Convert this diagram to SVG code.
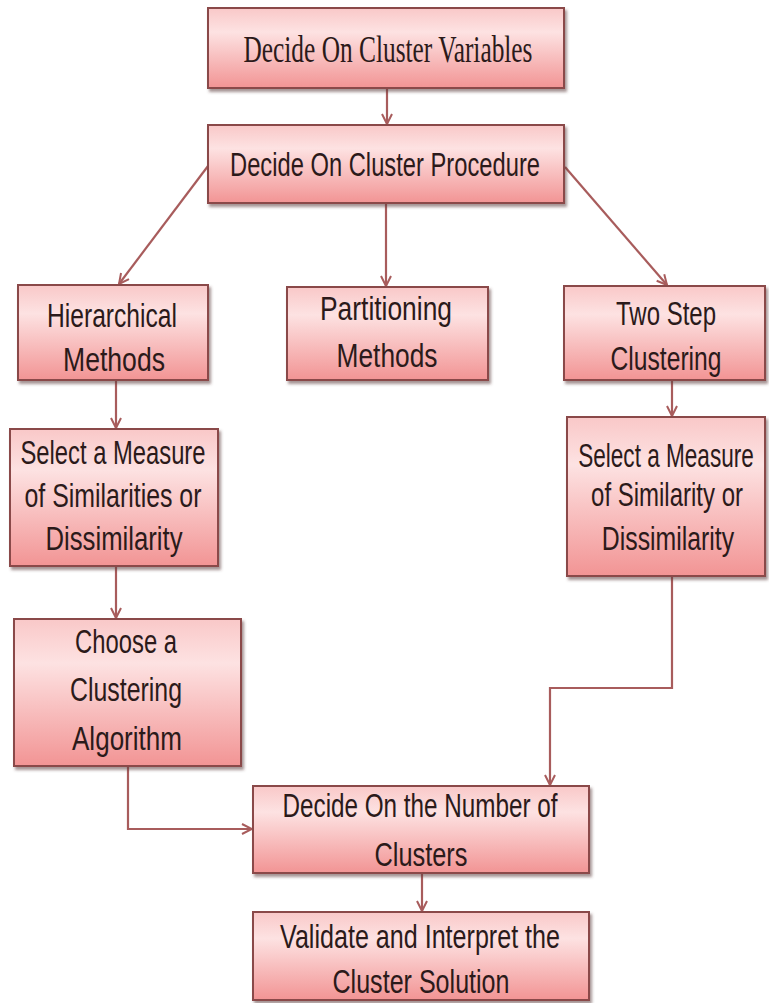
<svg xmlns="http://www.w3.org/2000/svg" width="769" height="1003" viewBox="0 0 769 1003">
<style>
.box{fill:url(#g);stroke:#8a4848;stroke-width:2;filter:url(#sh)}
.t{font-family:"Liberation Sans",Arial,sans-serif;font-size:33px;fill:#2b1a1a;text-anchor:middle}
.ts{font-family:"Liberation Serif","Times New Roman",serif;font-size:37px;fill:#2b1a1a;text-anchor:middle}
.c{fill:none;stroke:#a85c5c;stroke-width:2.2;marker-end:url(#ah)}
</style>
<defs>
<linearGradient id="g" x1="0" y1="0" x2="0" y2="1">
<stop offset="0" stop-color="#f9c8c8"/>
<stop offset="0.3" stop-color="#fde2e2"/>
<stop offset="1" stop-color="#f29494"/>
</linearGradient>
<filter id="sh" x="-3%" y="-5%" width="108%" height="120%">
<feDropShadow dx="2" dy="3" stdDeviation="1.5" flood-color="#5a3a3a" flood-opacity="0.55"/>
</filter>
<marker id="ah" viewBox="0 0 12 12" refX="11" refY="6" markerWidth="12" markerHeight="12" markerUnits="userSpaceOnUse" orient="auto">
<path d="M1,1 L11,6 L1,11" fill="none" stroke="#a85c5c" stroke-width="2"/>
</marker>
</defs>
<rect width="769" height="1003" fill="#ffffff"/>
<g id="connectors">
<path class="c" d="M387,88 V124"/>
<path class="c" d="M386,203 V286"/>
<path class="c" d="M208,166 L119,284"/>
<path class="c" d="M565,167 L667,285"/>
<path class="c" d="M116,380 V428"/>
<path class="c" d="M672,380 V416"/>
<path class="c" d="M116,566 V618"/>
<path class="c" d="M128,766 V829 H252"/>
<path class="c" d="M672,576 V688 H550 V785"/>
<path class="c" d="M422,873 V911"/>
</g>
<g id="n1"><rect class="box" x="208" y="8" width="356" height="80"/>
<text class="ts" x="388" y="62" textLength="289" lengthAdjust="spacingAndGlyphs">Decide On Cluster Variables</text></g>
<g id="n2"><rect class="box" x="208" y="125" width="356" height="78"/>
<text class="t" x="385" y="176" textLength="310" lengthAdjust="spacingAndGlyphs">Decide On Cluster Procedure</text></g>
<g id="n3"><rect class="box" x="18" y="285" width="190" height="95"/>
<text class="t" x="112" y="327" textLength="130" lengthAdjust="spacingAndGlyphs">Hierarchical</text>
<text class="t" x="114" y="371" textLength="102" lengthAdjust="spacingAndGlyphs">Methods</text></g>
<g id="n4"><rect class="box" x="287" y="287" width="201" height="93"/>
<text class="t" x="386" y="320" textLength="132" lengthAdjust="spacingAndGlyphs">Partitioning</text>
<text class="t" x="387" y="367" textLength="101" lengthAdjust="spacingAndGlyphs">Methods</text></g>
<g id="n5"><rect class="box" x="564" y="286" width="201" height="94"/>
<text class="t" x="666" y="325" textLength="100" lengthAdjust="spacingAndGlyphs">Two Step</text>
<text class="t" x="666" y="370" textLength="111" lengthAdjust="spacingAndGlyphs">Clustering</text></g>
<g id="n6"><rect class="box" x="10" y="429" width="208" height="137"/>
<text class="t" x="113" y="464" textLength="185" lengthAdjust="spacingAndGlyphs">Select a Measure</text>
<text class="t" x="113" y="507" textLength="177" lengthAdjust="spacingAndGlyphs">of Similarities or</text>
<text class="t" x="114" y="550" textLength="137" lengthAdjust="spacingAndGlyphs">Dissimilarity</text></g>
<g id="n7"><rect class="box" x="567" y="417" width="198" height="159"/>
<text class="t" transform="translate(666,467) scale(0.7,1)" x="0" y="0" textLength="251" lengthAdjust="spacingAndGlyphs">Select a Measure</text>
<text class="t" transform="translate(667,506) scale(0.7,1)" x="0" y="0" textLength="217" lengthAdjust="spacingAndGlyphs">of Similarity or</text>
<text class="t" transform="translate(668,550) scale(0.7,1)" x="0" y="0" textLength="189" lengthAdjust="spacingAndGlyphs">Dissimilarity</text></g>
<g id="n8"><rect class="box" x="14" y="619" width="227" height="147"/>
<text class="t" x="126" y="653" textLength="102" lengthAdjust="spacingAndGlyphs">Choose a</text>
<text class="t" x="126" y="701" textLength="112" lengthAdjust="spacingAndGlyphs">Clustering</text>
<text class="t" x="127" y="750" textLength="110" lengthAdjust="spacingAndGlyphs">Algorithm</text></g>
<g id="n9"><rect class="box" x="253" y="786" width="336" height="87"/>
<text class="t" x="420" y="817" textLength="275" lengthAdjust="spacingAndGlyphs">Decide On the Number of</text>
<text class="t" x="421" y="866" textLength="93" lengthAdjust="spacingAndGlyphs">Clusters</text></g>
<g id="n10"><rect class="box" x="253" y="912" width="336" height="88"/>
<text class="t" x="420" y="948" textLength="280" lengthAdjust="spacingAndGlyphs">Validate and Interpret the</text>
<text class="t" x="421" y="993" textLength="177" lengthAdjust="spacingAndGlyphs">Cluster Solution</text></g>
</svg>
